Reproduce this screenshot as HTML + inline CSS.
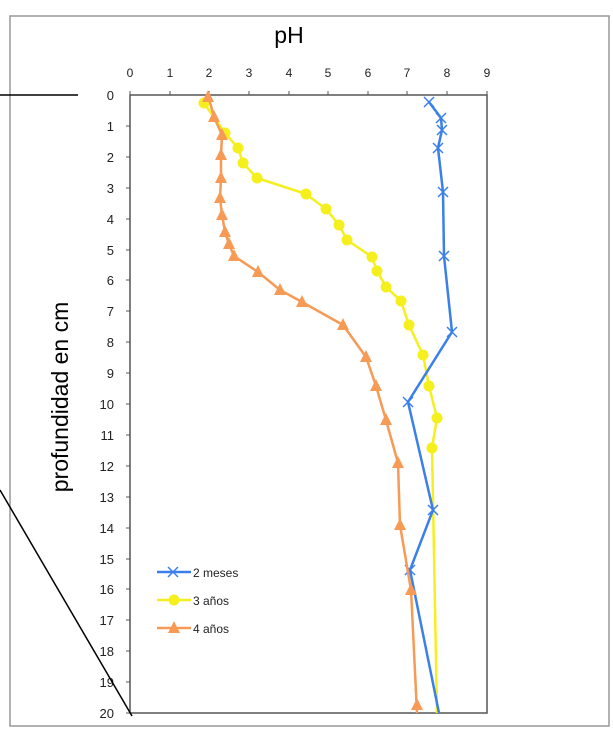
<!DOCTYPE html>
<html><head><meta charset="utf-8"><style>
html,body{margin:0;padding:0;background:#fff;}
svg{display:block;}
text{font-family:"Liberation Sans",sans-serif;}
.t{font-family:"DejaVu Sans",sans-serif;}
</style></head><body>
<svg width="613" height="735" viewBox="0 0 613 735" xmlns="http://www.w3.org/2000/svg">
<defs>
<g id="tri"><polygon points="0,-7 6,5 -6,5" fill="#f79a55"/></g>
<g id="dot"><circle r="5.5" fill="#f5ef1e"/></g>
<g id="xm"><path d="M-5,-5L5,5M-5,5L5,-5" stroke="#3b80e8" stroke-width="1.5"/></g>
</defs>
<rect x="10" y="16" width="599" height="710" fill="#fff" stroke="#999" stroke-width="1.5"/>
<text x="289" y="43" font-size="23" text-anchor="middle">pH</text>
<rect x="130" y="95" width="357" height="618" fill="#fff" stroke="#555" stroke-width="1.5"/>
<g class="t" font-size="12" text-anchor="middle" fill="#222">
<text x="130" y="77">0</text><text x="170" y="77">1</text><text x="209" y="77">2</text><text x="249" y="77">3</text><text x="289" y="77">4</text><text x="328" y="77">5</text><text x="368" y="77">6</text><text x="407" y="77">7</text><text x="447" y="77">8</text><text x="487" y="77">9</text>
</g>
<g stroke="#555" stroke-width="1">
<path d="M170,95v-4M209,95v-4M249,95v-4M289,95v-4M328,95v-4M368,95v-4M407,95v-4M447,95v-4M487,95v-4M130,95v-4"/>
<path d="M130,126h-4M130,157h-4M130,188h-4M130,219h-4M130,250h-4M130,280h-4M130,311h-4M130,342h-4M130,373h-4M130,404h-4M130,435h-4M130,466h-4M130,497h-4M130,528h-4M130,559h-4M130,589h-4M130,620h-4M130,651h-4M130,682h-4M130,713h-4"/>
</g>
<g class="t" font-size="13" text-anchor="end" fill="#222">
<text x="114" y="100">0</text><text x="114" y="131">1</text><text x="114" y="162">2</text><text x="114" y="193">3</text><text x="114" y="224">4</text><text x="114" y="255">5</text><text x="114" y="285">6</text><text x="114" y="316">7</text><text x="114" y="347">8</text><text x="114" y="378">9</text><text x="114" y="409">10</text><text x="114" y="440">11</text><text x="114" y="471">12</text><text x="114" y="502">13</text><text x="114" y="533">14</text><text x="114" y="564">15</text><text x="114" y="594">16</text><text x="114" y="625">17</text><text x="114" y="656">18</text><text x="114" y="687">19</text><text x="114" y="718">20</text>
</g>
<text transform="translate(68,397) rotate(-90)" font-size="23" text-anchor="middle">profundidad en cm</text>
<polyline fill="none" stroke="#f5ef1e" stroke-width="2.5" points="204,103 225,133 238,148 243,163 257,178 306,194 326,209 339,225 347,240 372,257 377,271 386,287 401,301 409,325 423,355 429,386 437,418 432,448 437,713"/>
<g>
<use href="#dot" x="204" y="103"/><use href="#dot" x="225" y="133"/><use href="#dot" x="238" y="148"/><use href="#dot" x="243" y="163"/><use href="#dot" x="257" y="178"/><use href="#dot" x="306" y="194"/><use href="#dot" x="326" y="209"/><use href="#dot" x="339" y="225"/><use href="#dot" x="347" y="240"/><use href="#dot" x="372" y="257"/><use href="#dot" x="377" y="271"/><use href="#dot" x="386" y="287"/><use href="#dot" x="401" y="301"/><use href="#dot" x="409" y="325"/><use href="#dot" x="423" y="355"/><use href="#dot" x="429" y="386"/><use href="#dot" x="437" y="418"/><use href="#dot" x="432" y="448"/>
</g>
<polyline fill="none" stroke="#3b80e8" stroke-width="2.5" points="429,102 441,118 442,130 438,148 443,192 444,256 452,332 408,402 433,510 410,570 439,713"/>
<g>
<use href="#xm" x="429" y="102"/><use href="#xm" x="441" y="118"/><use href="#xm" x="442" y="130"/><use href="#xm" x="438" y="148"/><use href="#xm" x="443" y="192"/><use href="#xm" x="444" y="256"/><use href="#xm" x="452" y="332"/><use href="#xm" x="408" y="402"/><use href="#xm" x="433" y="510"/><use href="#xm" x="410" y="570"/>
</g>
<polyline fill="none" stroke="#f79a55" stroke-width="2.5" points="208,95 214,117 222,135 221,155 221,178 220,198 222,215 225,232 229,244 234,256 258,272 280,290 302,302 343,325 366,357 376,386 386,420 398,463 400,525 411,590 417,713"/>
<g>
<use href="#tri" x="208" y="97"/><use href="#tri" x="214" y="117"/><use href="#tri" x="222" y="135"/><use href="#tri" x="221" y="155"/><use href="#tri" x="221" y="178"/><use href="#tri" x="220" y="198"/><use href="#tri" x="222" y="215"/><use href="#tri" x="225" y="232"/><use href="#tri" x="229" y="244"/><use href="#tri" x="234" y="256"/><use href="#tri" x="258" y="272"/><use href="#tri" x="280" y="290"/><use href="#tri" x="302" y="302"/><use href="#tri" x="343" y="325"/><use href="#tri" x="366" y="357"/><use href="#tri" x="376" y="386"/><use href="#tri" x="386" y="420"/><use href="#tri" x="398" y="463"/><use href="#tri" x="400" y="525"/><use href="#tri" x="411" y="590"/><use href="#tri" x="417" y="705"/>
</g>
<g class="t" font-size="12" fill="#222">
<line x1="157" y1="572" x2="191" y2="572" stroke="#3b80e8" stroke-width="2.5"/><use href="#xm" x="173" y="572"/>
<text x="193" y="577">2 meses</text>
<line x1="157" y1="600" x2="191" y2="600" stroke="#f5ef1e" stroke-width="2.5"/><use href="#dot" x="174" y="600"/>
<text x="193" y="605">3 años</text>
<line x1="157" y1="628" x2="191" y2="628" stroke="#f79a55" stroke-width="2.5"/><use href="#tri" x="174" y="628"/>
<text x="193" y="633">4 años</text>
</g>
<line x1="0" y1="95" x2="78" y2="95" stroke="#000" stroke-width="1.5"/>
<line x1="0" y1="490" x2="132" y2="716" stroke="#000" stroke-width="1.5"/>
</svg>
</body></html>
